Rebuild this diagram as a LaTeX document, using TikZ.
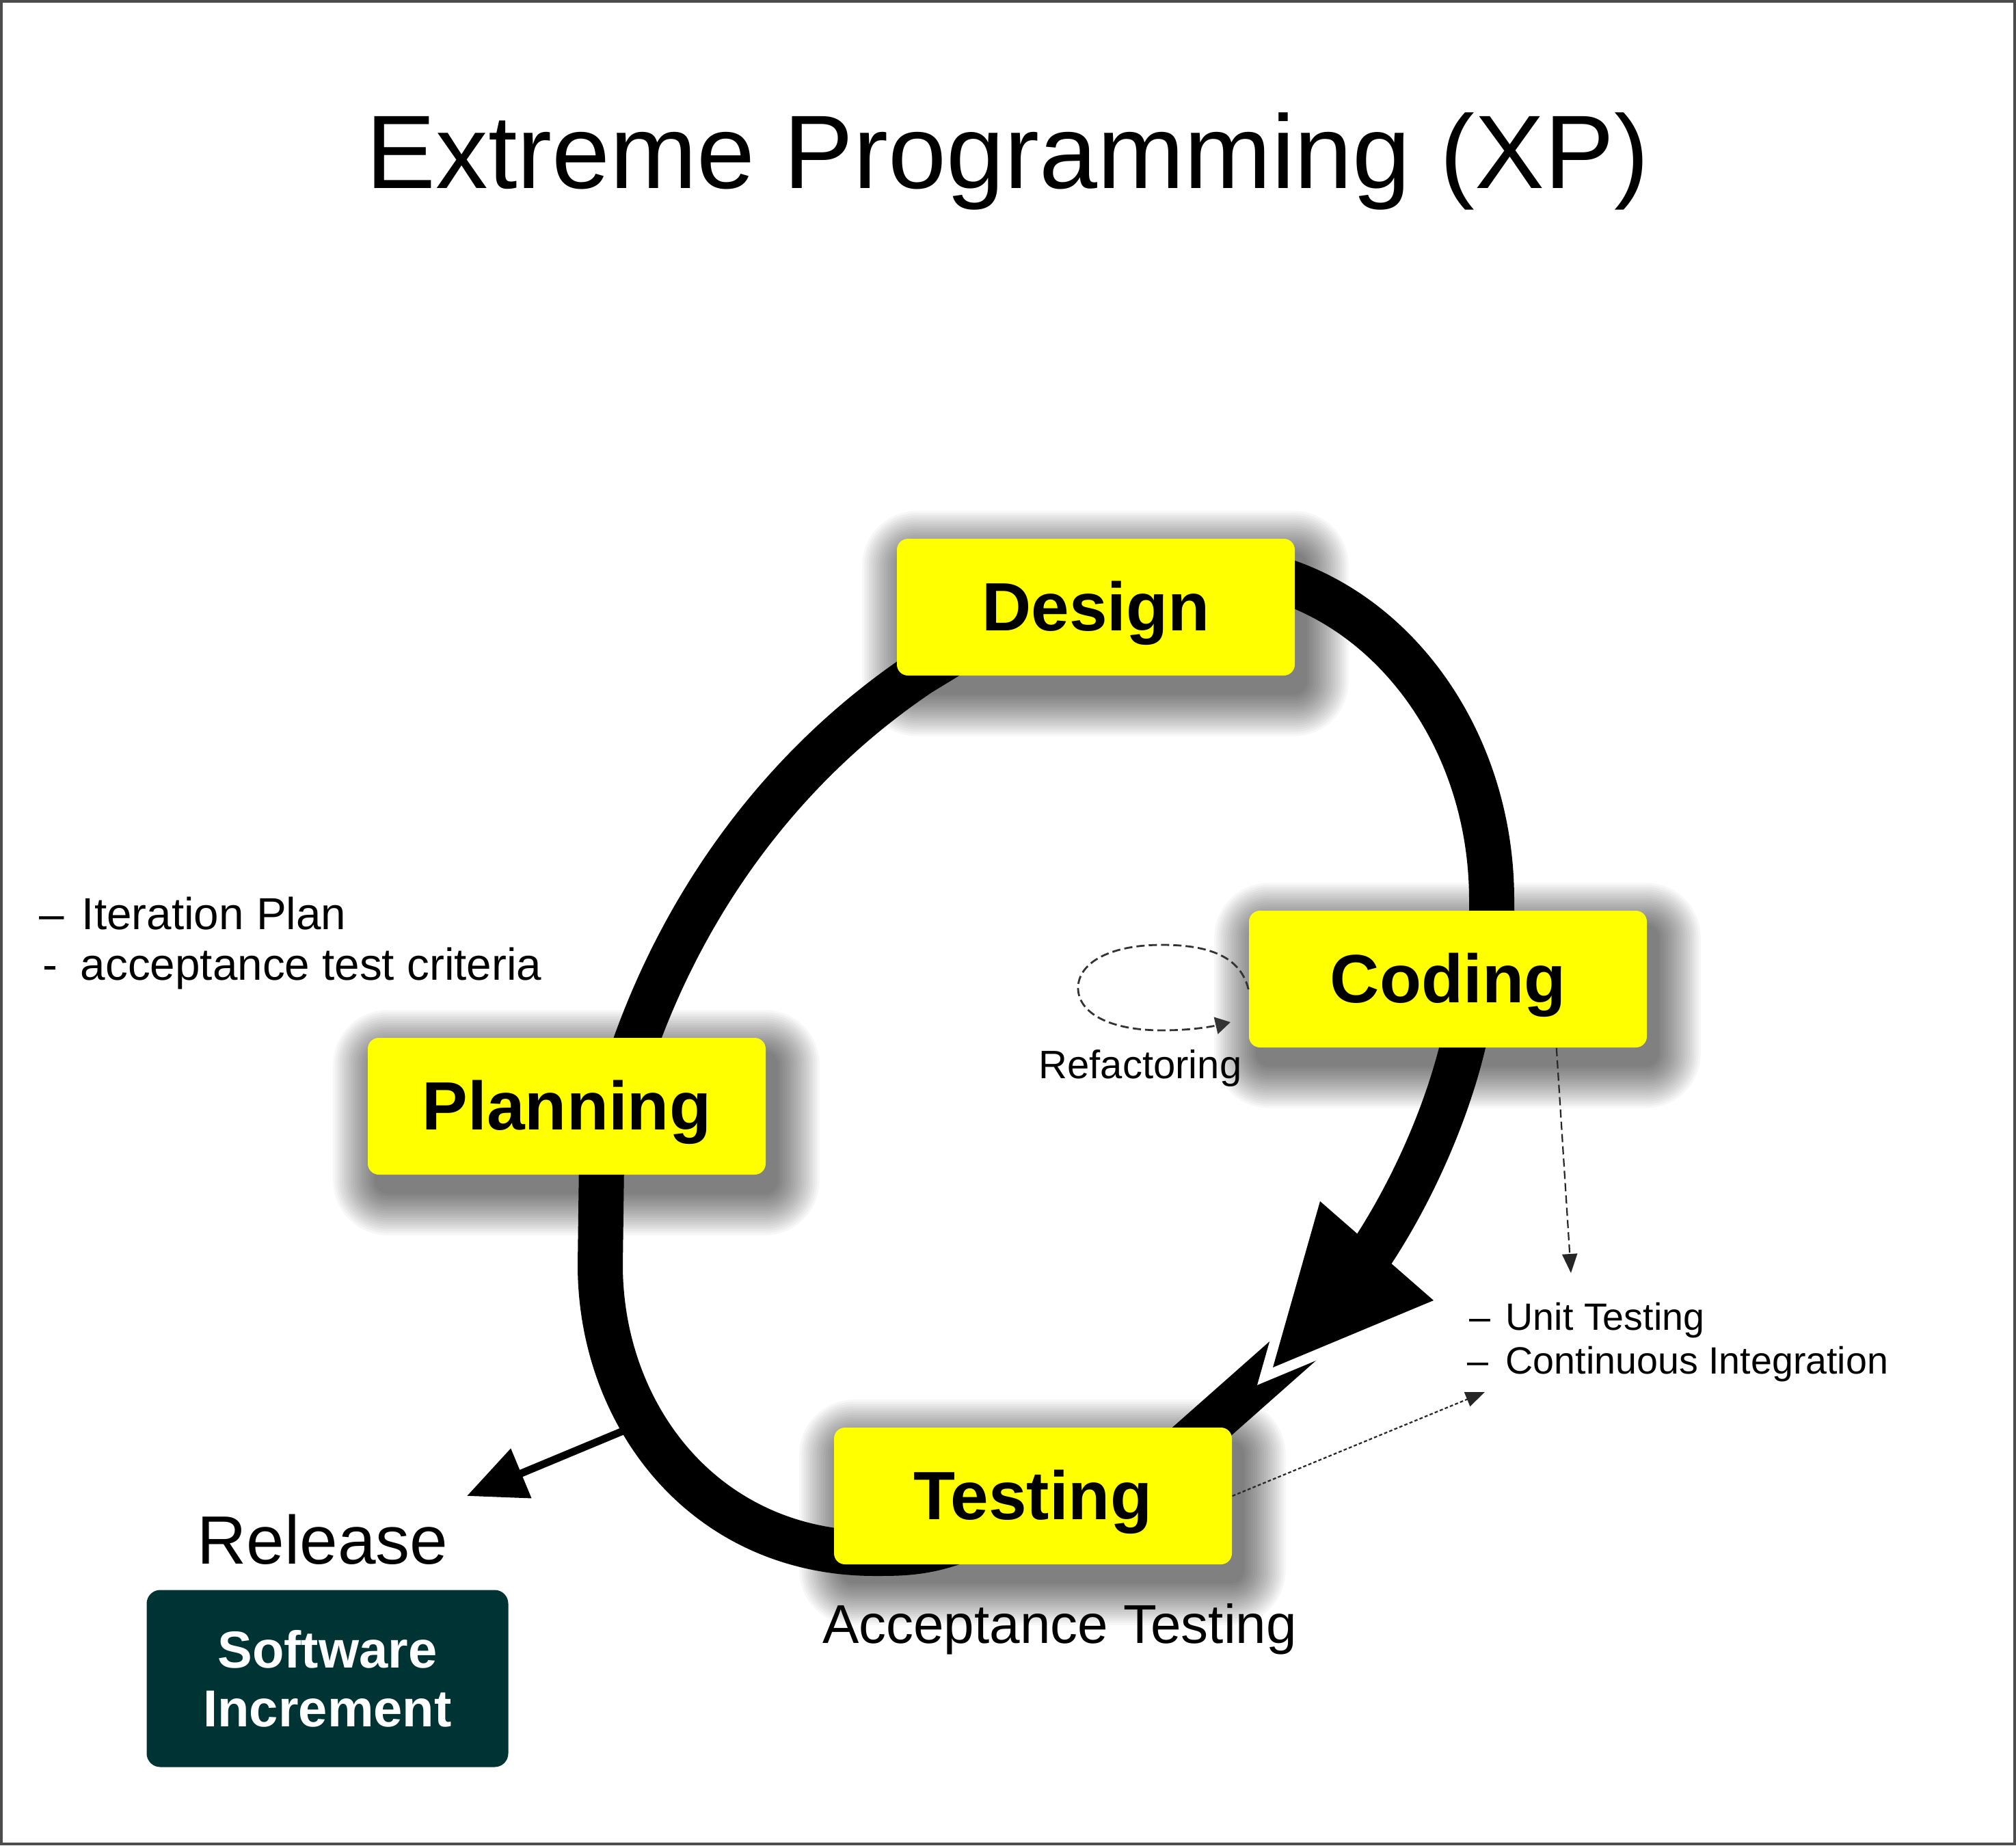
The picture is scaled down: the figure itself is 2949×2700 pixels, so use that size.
\documentclass[tikz,border=0pt]{standalone}
\usepackage{fontspec}
\setmainfont{Liberation Sans}
\usetikzlibrary{arrows.meta,calc}
\definecolor{boxyellow}{RGB}{255,255,0}
\definecolor{incteal}{RGB}{0,51,51}
\pgfdeclarelayer{strokes}
\pgfdeclarelayer{shadows}
\pgfsetlayers{strokes,shadows,main}
\newcommand{\xpshadow}[1]{%
  \foreach \k in {1,...,20}{%
    \pgfmathsetmacro{\xpe}{\k*3.2}%
    \pgfmathsetmacro{\xpr}{(\k*3.2+16)*0.25}%
    \fill[black, opacity=0.03, rounded corners=\xpr pt]
      ($(#1.south west)+(14-\xpe,24+\xpe)$) rectangle ($(#1.north east)+(14+\xpe,24-\xpe)$);
  }%
}
\begin{document}
\begin{tikzpicture}[x=0.25pt,y=-0.25pt,
  phase/.style={fill=boxyellow, rounded corners=4pt, minimum width=145.5pt,
    minimum height=50pt, inner sep=0pt, text height=17pt, text depth=0pt,
    font=\bfseries\fontsize{25pt}{30pt}\selectfont},
  cyc/.style={line width=16.5pt, black, line cap=butt, line join=round},
  note/.style={inner sep=0pt, anchor=base west},
  lbl/.style={inner sep=0pt, anchor=base},
  thinarrow/.style={line width=0.55pt, black!85, -{Triangle[length=7pt,width=5.5pt]}}
]
\useasboundingbox (0,0) rectangle (2949,2700);

% ---- nodes ----
\node[lbl, font=\fontsize{38.2pt}{45pt}\selectfont] (title) at (1474,275) {Extreme Programming (XP)};
\node[phase] (design) at (1603,888) {Design};
\node[phase] (coding) at (2118,1432) {Coding};
\node[phase] (planning) at (829,1618) {Planning};
\node[phase] (testing) at (1511,2188) {Testing};
\node[fill=incteal, rounded corners=5pt, minimum width=132.25pt, minimum height=64.75pt,
  inner sep=0pt, text=white, align=center, font=\bfseries\fontsize{19pt}{21.5pt}\selectfont]
  (increment) at (479,2455) {Software\\Increment};

\node[lbl, font=\fontsize{25pt}{30pt}\selectfont] (release) at (472,2287) {Release};
\node[lbl, font=\fontsize{20pt}{24pt}\selectfont] (accept) at (1550,2403) {Acceptance Testing};
\node[lbl, font=\fontsize{14.5pt}{17pt}\selectfont] (refac) at (1668,1577) {Refactoring};
\node[note, font=\fontsize{16.4pt}{19pt}\selectfont] (plan1) at (57,1359) {–\hspace{6.4pt}Iteration Plan};
\node[note, font=\fontsize{16.4pt}{19pt}\selectfont] (plan2) at (62,1433) {-\hspace{8.3pt}acceptance test criteria};
\node[note, font=\fontsize{13.9pt}{16pt}\selectfont] (unit1) at (2149,1945) {–\hspace{5.5pt}Unit Testing};
\node[note, font=\fontsize{13.9pt}{16pt}\selectfont] (unit2) at (2146,2009) {–\hspace{6.25pt}Continuous Integration};

% ---- coordinates ----
\coordinate (hb1) at (1931,1757);
\coordinate (hb2) at (2097,1902);
\coordinate (ht) at (1862,2000);
\coordinate (relstart) at (940,2081);
\coordinate (reltip) at (683,2188);
\coordinate (refend) at (1800,1495);
\coordinate (ut) at (2298,1862);
\coordinate (ci) at (2172,2036);

% ---- loop strokes ----
\begin{pgfonlayer}{strokes}
  \fill[white] (0,0) rectangle (2949,2700);
  \draw[black!70, line width=1pt] (2,2) rectangle (2947,2697);
  \draw[line width=2.75pt, -{Triangle[length=21.5pt,width=19pt]}] (relstart) -- (reltip);
  % Design -> Coding
  \draw[cyc] (design.center) -- (1760,830) .. controls (1993,830) and (2182,1048) .. (2182,1316) -- (2182,1390) -- (coding.center);
  % Testing -> Planning
  \draw[cyc] (testing.center) -- (1460,2225) .. controls (1380,2272) and (1330,2272) .. (1280,2272)
    .. controls (1030,2272) and (878,2070) .. (878,1850) -- (880,1700) -- (planning.center);
  % Planning -> Design
  \draw[cyc] (planning.center) -- (918,1560) .. controls (990,1340) and (1130,1130) .. (1345,985) -- (1445,924) -- (design.center);
  % Coding -> Testing (continuation beyond the big head)
  \draw[cyc] (1960,1915) -- (1700,2145) -- (testing.center);
  \draw[white, line width=7.5pt, line join=miter] (hb1) -- (hb2) -- (ht) -- cycle;
  \draw[cyc] (coding.center) -- (2150,1480) .. controls (2130,1600) and (2070,1740) .. (1998,1845);
  \fill[black] (hb1) -- (hb2) -- (ht) -- cycle;
\end{pgfonlayer}

% ---- shadows ----
\begin{pgfonlayer}{shadows}
  \xpshadow{design}
  \xpshadow{coding}
  \xpshadow{planning}
  \xpshadow{testing}
\end{pgfonlayer}

% ---- thin connectors ----
\draw[line width=0.7pt, black!80, dash pattern=on 3pt off 1.5pt, -{Triangle[length=5.5pt,width=6.25pt]}]
  ($(coding.west)+(0,15)$) .. controls (1815,1400) and (1770,1382) .. (1700,1382)
  .. controls (1620,1382) and (1577,1410) .. (1577,1445)
  .. controls (1577,1480) and (1620,1507) .. (1700,1507)
  .. controls (1740,1507) and (1770,1502) .. (refend);
\draw[thinarrow, dash pattern=on 3pt off 1.5pt] ($(coding.south east)+(-133,0)$) -- (ut);
\draw[thinarrow, dash pattern=on 1.2pt off 0.8pt] (testing.east) -- (ci);
\end{tikzpicture}
\end{document}
